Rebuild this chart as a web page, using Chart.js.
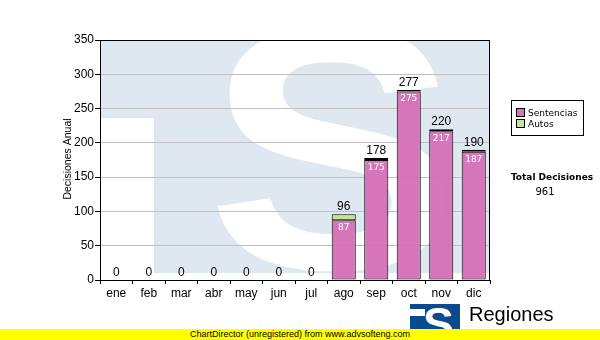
<!DOCTYPE html>
<html>
<head>
<meta charset="utf-8">
<script src="https://cdn.jsdelivr.net/npm/chart.js@4"></script>
<style>
  body { margin: 0; background: #fff; }
  #wrap { position: relative; width: 600px; height: 340px; overflow: hidden; }
  #legend { position: absolute; left: 511px; top: 100px; width: 71px; height: 34px; border: 1px solid #000;
            font: 9px "DejaVu Sans", Verdana, sans-serif; padding: 0; }
  #legend div { position: absolute; left: 4px; white-space: nowrap; line-height: 11px; }
  #legend span { display: inline-block; width: 7px; height: 7px; border: 1px solid #000; margin-right: 3px; vertical-align: -1px; }
  #total { position: absolute; left: 506px; top: 171px; width: 92px; text-align: center;
           font: bold 9px "DejaVu Sans", Verdana, sans-serif; line-height: 12px; }
  #totalVal { position: absolute; left: 500px; top: 186px; width: 90px; text-align: center;
              font: 10px "DejaVu Sans", Verdana, sans-serif; line-height: 12px; }
  #logo { position: absolute; left: 410px; top: 304px; width: 50px; height: 40px; background: #0b4a8e; overflow: hidden; }
  #logo b { position: absolute; left: 13px; top: -7px; font: bold 46px "Liberation Sans", Arial, sans-serif; color: #fff; }
  #logo i { position: absolute; left: 0; top: 5px; width: 15px; height: 7px; background: #fff; }
  #regiones { position: absolute; left: 469px; top: 303px; font: 20px "Liberation Sans", Arial, sans-serif; color: #000; }
  #footer { position: absolute; left: 0; top: 329px; width: 600px; height: 11px; background: #ffff00;
            font: 9px "Liberation Sans", Arial, sans-serif; text-align: center; line-height: 11px; color: #000; }
</style>
</head>
<body>
<div id="wrap">
  <canvas id="chart" width="600" height="340"></canvas>
  <div id="legend">
    <div style="top:7px"><span style="background:#d576b9"></span>Sentencias</div>
    <div style="top:18px"><span style="background:#c9e394"></span>Autos</div>
  </div>
  <div id="total">Total Decisiones</div>
  <div id="totalVal">961</div>
  <div id="logo"><i></i><b>S</b></div>
  <div id="regiones">Regiones</div>
  <div id="footer">ChartDirector (unregistered) from www.advsofteng.com</div>
</div>
<script>
const months = ['ene', 'feb', 'mar', 'abr', 'may', 'jun', 'jul', 'ago', 'sep', 'oct', 'nov', 'dic'];
const sentencias = [0, 0, 0, 0, 0, 0, 0, 87, 175, 275, 217, 187];
const autos = [0, 0, 0, 0, 0, 0, 0, 9, 3, 2, 3, 3];
const yTicks = [0, 50, 100, 150, 200, 250, 300, 350];

// light blue "TS" watermark behind the plot
const watermark = {
    id: 'watermark',
    beforeDraw(chart) {
        const a = chart.chartArea, c = chart.ctx;
        c.save();
        c.beginPath();
        c.rect(a.left, a.top, a.right - a.left, a.bottom - a.top);
        c.clip();
        c.fillStyle = '#fff';
        c.fillRect(a.left, a.top, a.right - a.left, a.bottom - a.top);
        c.fillStyle = '#dfe8f1';
        c.fillRect(a.left, a.top, a.right - a.left, 78);
        c.fillRect(154, a.top, a.right - 154, 273 - a.top);
        c.fillStyle = '#fff';
        c.translate(333, 268);
        c.scale(1.1, 1);
        c.font = 'bold 345px "Liberation Sans", Arial, sans-serif';
        c.textAlign = 'center';
        c.textBaseline = 'alphabetic';
        c.fillText('S', 0, 0);
        c.restore();
    },
    afterDraw(chart) {
        const a = chart.chartArea, c = chart.ctx;
        c.save();
        c.strokeStyle = '#000';
        c.lineWidth = 1;
        c.strokeRect(a.left + 0.5, a.top + 0.5, a.right - a.left - 1, a.bottom - a.top);
        c.translate(68, (a.top + a.bottom) / 2 - 1);
        c.rotate(-Math.PI / 2);
        c.font = '10.5px "Liberation Sans", Arial, sans-serif';
        c.fillStyle = '#000';
        c.textAlign = 'center';
        c.textBaseline = 'middle';
        c.fillText('Decisiones Anual', 0, 0);
        c.restore();
    }
};

const barLabels = {
    id: 'barLabels',
    afterDatasetsDraw(chart) {
        const c = chart.ctx;
        const m0 = chart.getDatasetMeta(0), m1 = chart.getDatasetMeta(1);
        c.save();
        c.textAlign = 'center';
        months.forEach((m, i) => {
            const total = sentencias[i] + autos[i];
            const x = m0.data[i].x;
            const top = m1.data[i].y;
            c.fillStyle = '#000';
            c.font = '12px "Liberation Sans", Arial, sans-serif';
            c.textBaseline = 'bottom';
            c.fillText(String(total), x, top - 1);
            if (sentencias[i] > 0) {
                c.fillStyle = '#fff';
                c.font = '9px "DejaVu Sans", Verdana, sans-serif';
                c.textBaseline = 'top';
                c.fillText(String(sentencias[i]), x, m0.data[i].y + 3);
            }
        });
        c.restore();
    }
};

new Chart(document.getElementById('chart'), {
    type: 'bar',
    data: {
        labels: months,
        datasets: [
            { label: 'Sentencias', data: sentencias, backgroundColor: 'rgba(212,112,182,0.95)', borderColor: '#000', borderWidth: 1, borderSkipped: false },
            { label: 'Autos', data: autos, backgroundColor: '#c9e394', borderColor: '#000', borderWidth: 1, borderSkipped: false }
        ]
    },
    options: {
        responsive: false,
        animation: false,
        events: [],
        layout: { padding: { left: 0, top: 40, right: 110, bottom: 0 } },
        categoryPercentage: 1,
        barPercentage: 0.74,
        plugins: { legend: { display: false }, tooltip: { enabled: false } },
        scales: {
            x: {
                stacked: true,
                afterFit(s) { s.height = 60; },
                grid: { drawOnChartArea: false, tickLength: 4, tickColor: '#000' },
                border: { color: '#000' },
                ticks: { color: '#000', padding: 2, font: { family: '"Liberation Sans", Arial, sans-serif', size: 12 } }
            },
            y: {
                stacked: true,
                min: 0, max: 350,
                afterFit(s) { s.width = 100; },
                afterBuildTicks(s) { s.ticks = yTicks.map(v => ({ value: v })); },
                grid: { color: '#c0c0c0', tickLength: 5, tickColor: '#000' },
                border: { color: '#000' },
                ticks: { color: '#000', padding: 1, font: { family: '"Liberation Sans", Arial, sans-serif', size: 12 } }
            }
        }
    },
    plugins: [watermark, barLabels]
});
</script>
</body>
</html>
